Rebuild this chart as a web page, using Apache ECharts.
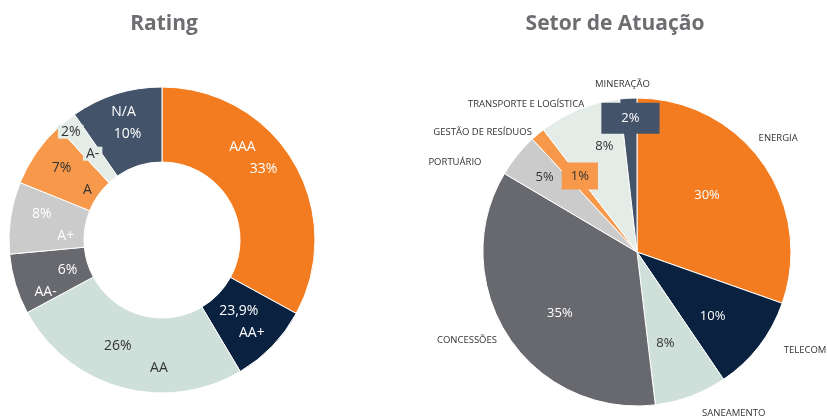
<!DOCTYPE html>
<html>
<head>
<meta charset="utf-8">
<script src="https://cdn.jsdelivr.net/npm/echarts@6/dist/echarts.min.js"></script>
<style>
html, body { margin: 0; padding: 0; background: #fff; }
#chart { width: 827px; height: 418px; }
</style>
</head>
<body>
<div id="chart"></div>
<script>
// Rating (donut)
const ratingNames = ['AAA', 'AA+', 'AA', 'AA-', 'A+', 'A', 'A-', 'N/A']
const ratingValues = [33, 8.5, 25.7, 6.4, 7.6, 7, 2.2, 9.7]
const ratingLabels = ['33%', '23,9%', '26%', '6%', '8%', '7%', '2%', '10%']
const ratingNameFirst = ['AAA', 'N/A']

// Setor de Atuação (pie)
const setorNames = ['ENERGIA', 'TELECOM', 'SANEAMENTO', 'CONCESSÕES', 'PORTUÁRIO', 'GESTÃO DE RESÍDUOS', 'TRANSPORTE E LOGÍSTICA', 'MINERAÇÃO']
const setorValues = [30.4, 10.1, 7.6, 35.4, 4.6, 1.5, 8.6, 1.8]
const setorLabels = ['30%', '10%', '8%', '35%', '5%', '1%', '8%', '2%']

// styling
const colors = ['#F37C20', '#0A2240', '#CFDFD9', '#68696E', '#CBCBCC', '#F7984A', '#E4ECE8', '#43536A']
const ratingTextColors = ['#fff', '#fff', '#333', '#fff', '#fff', '#333', '#333', '#fff']
const setorTextColors = ['#fff', '#fff', '#333', '#fff', '#333', '#333', '#333', '#fff']
// horizontal stagger between the two label lines, and label nudges
const ratingStagger = [21, 13, 41, -22, 24, 26, 22, 4]
const ratingOffsets = [[-11, -22], [-2, 0], [8, 3], [8, 7], [9, 2], [10, 6], [-6, -5], [-1, -4]]
const setorPctOffsets = [[-10, 0], [-2, 4], [-6, 0], [5, 8], [-16, -13], [6, -1], [4, -15], [-1, -36]]
const setorNameOffsets = [[-14, -21], [15, 1], [4, 11], [-1, 1], [-26, 11], [3, 3], [12, 1], [27, -8]]
const font = 'Open Sans'

const chart = echarts.init(document.getElementById('chart'))

const ratingData = ratingNames.map((name, i) => {
  const pct = ratingLabels[i]
  const lines = ratingNameFirst.includes(name) ? [name, pct] : [pct, name]
  const s = ratingStagger[i]
  const tok = { color: ratingTextColors[i], fontFamily: font, fontSize: 14, lineHeight: 22 }
  if (name === 'A-') {
    tok.backgroundColor = colors[6]
    tok.padding = [0, 3]
  }
  const text = s >= 0
    ? '{t|' + lines[0] + '}{g| }\n{g| }{t|' + lines[1] + '}'
    : '{g| }{t|' + lines[0] + '}\n{t|' + lines[1] + '}{g| }'
  return {
    name: name,
    value: ratingValues[i],
    itemStyle: { color: colors[i] },
    label: {
      show: true,
      formatter: text,
      offset: ratingOffsets[i],
      rich: { t: tok, g: { width: Math.abs(s), fontSize: 14, lineHeight: 22 } }
    }
  }
})

const setorPctData = setorNames.map((name, i) => {
  const item = {
    name: name,
    value: setorValues[i],
    label: { color: setorTextColors[i], offset: setorPctOffsets[i] }
  }
  if (name === 'GESTÃO DE RESÍDUOS') {
    item.label.backgroundColor = colors[5]
    item.label.padding = [7, 9]
  }
  if (name === 'MINERAÇÃO') {
    item.label.backgroundColor = colors[7]
    item.label.padding = [9, 20]
  }
  return item
})

const titleStyle = { fontFamily: font, fontSize: 21, fontWeight: 'bold', color: '#6D6E71' }

const option = {
  animation: false,
  title: [
    { text: 'Rating', left: 159, top: 9, textAlign: 'center', textStyle: titleStyle },
    { text: 'Setor de Atuação', left: 610, top: 9, textAlign: 'center', textStyle: titleStyle }
  ],
  series: [
    {
      type: 'pie',
      silent: true,
      center: [162, 240],
      radius: [78, 153],
      startAngle: 90,
      minShowLabelAngle: 0,
      itemStyle: { borderColor: '#fff', borderWidth: 1 },
      label: { position: 'inside' },
      data: ratingData
    },
    {
      // slices
      type: 'pie',
      silent: true,
      center: [637, 252],
      radius: [0, 154],
      startAngle: 90,
      itemStyle: { borderColor: '#fff', borderWidth: 1 },
      label: { show: false },
      data: setorNames.map((name, i) => ({ name: name, value: setorValues[i], itemStyle: { color: colors[i] } }))
    },
    {
      // percentage labels
      type: 'pie',
      silent: true,
      center: [637, 252],
      radius: [36, 154],
      startAngle: 90,
      itemStyle: { color: 'rgba(0,0,0,0)', borderWidth: 0 },
      label: {
        position: 'inside',
        fontFamily: font,
        fontSize: 13,
        formatter: p => setorLabels[p.dataIndex]
      },
      data: setorPctData
    },
    {
      // category names
      type: 'pie',
      silent: true,
      center: [637, 252],
      radius: [0, 154],
      startAngle: 90,
      avoidLabelOverlap: false,
      itemStyle: { color: 'rgba(0,0,0,0)', borderWidth: 0 },
      label: {
        position: 'outside',
        alignTo: 'none',
        overflow: 'none',
        fontFamily: font,
        fontSize: 9.5,
        color: '#333'
      },
      labelLine: { show: false, length: 6, length2: 0 },
      data: setorNames.map((name, i) => ({ name: name, value: setorValues[i], label: { offset: setorNameOffsets[i] } }))
    }
  ]
}

chart.setOption(option)
</script>
</body>
</html>
